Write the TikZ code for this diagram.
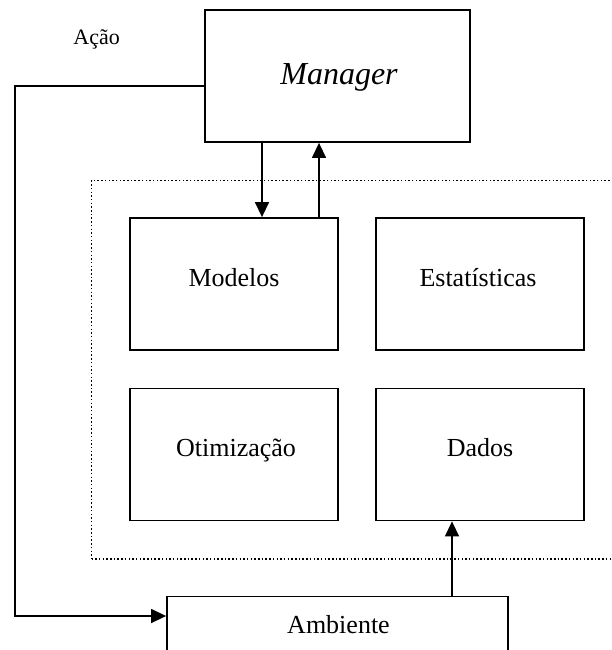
\documentclass[tikz,border=0pt]{standalone}
\usepackage{fontspec}
\setmainfont{Liberation Serif}
\usetikzlibrary{arrows.meta}

\begin{document}
\begin{tikzpicture}[x=1pt,y=1pt,
  box/.style={draw=black, line width=1.8pt, fill=white, inner sep=0pt},
  groupbox/.style={draw=black, line width=1.6pt, dash pattern=on 1.5pt off 2.2pt, inner sep=0pt},
  txt/.style={inner sep=0pt, anchor=base, font=\fontsize{26}{30}\selectfont},
  conn/.style={line width=1.4pt},
  arr/.style={conn, -{Triangle[length=15pt,width=14pt]}}
]
\useasboundingbox (0,0) rectangle (612,-650);
\clip (0,0) rectangle (612,-650);

% dotted grouping frame (runs off the right edge)
\node[groupbox, minimum width=560, minimum height=378.5] (grp) at (371.5,-369.75) {};

% boxes
\node[box, minimum width=265, minimum height=132] (mgr) at (337.5,-76) {};
\node[box, minimum width=208, minimum height=132] (mod) at (234,-284) {};
\node[box, minimum width=208, minimum height=132] (est) at (480,-284) {};
\node[box, minimum width=208, minimum height=132] (oti) at (234,-454.5) {};
\node[box, minimum width=208, minimum height=132] (dad) at (480,-454.5) {};
\node[box, minimum width=341, minimum height=100] (amb) at (337.5,-646.5) {};

% labels
\node[txt, font=\fontsize{32}{36}\selectfont\itshape] (mgrt) at (339,-85) {Manager};
\node[txt] (modt) at (234,-286) {Modelos};
\node[txt] (estt) at (478,-286) {Estatísticas};
\node[txt] (otit) at (236,-456) {Otimização};
\node[txt] (dadt) at (480,-456) {Dados};
\node[txt] (ambt) at (338.5,-633) {Ambiente};
\node[txt, font=\fontsize{22}{26}\selectfont] (acao) at (96.7,-45) {Ação};

% connectors
\draw[arr] ([xshift=-75.5]mgr.south) -- ([xshift=28]mod.north);
\draw[arr] ([xshift=85]mod.north) -- ([xshift=-18.5]mgr.south);
\draw[arr] ([xshift=114.5]amb.north) -- ([xshift=-28]dad.south);
\draw[arr] ([yshift=-10]mgr.west) -- ++(-189,0) |- ([yshift=30.5]amb.west);
\end{tikzpicture}
\end{document}
